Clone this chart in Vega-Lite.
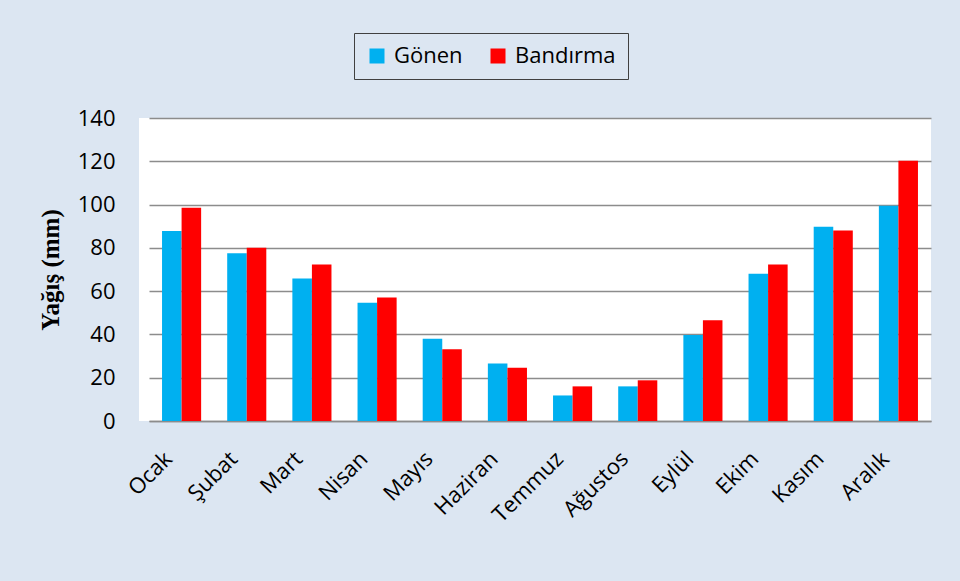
{
  "$schema": "https://vega.github.io/schema/vega-lite/v6.json",
  "autosize": {"type": "none"},
  "width": 792,
  "height": 303,
  "padding": {"left": 139, "top": 118, "right": 29, "bottom": 160},
  "background": "#DCE6F2",
  "config": {
    "view": {"fill": "white", "stroke": null},
    "font": "Open Sans"
  },
  "data": {
    "values": [
      {"ay": "Ocak", "istasyon": "Gönen", "yagis": 87.8},
      {"ay": "Ocak", "istasyon": "Bandırma", "yagis": 98.5},
      {"ay": "Şubat", "istasyon": "Gönen", "yagis": 77.5},
      {"ay": "Şubat", "istasyon": "Bandırma", "yagis": 80.0},
      {"ay": "Mart", "istasyon": "Gönen", "yagis": 65.8},
      {"ay": "Mart", "istasyon": "Bandırma", "yagis": 72.3},
      {"ay": "Nisan", "istasyon": "Gönen", "yagis": 54.6},
      {"ay": "Nisan", "istasyon": "Bandırma", "yagis": 57.1},
      {"ay": "Mayıs", "istasyon": "Gönen", "yagis": 38.0},
      {"ay": "Mayıs", "istasyon": "Bandırma", "yagis": 33.1},
      {"ay": "Haziran", "istasyon": "Gönen", "yagis": 26.6},
      {"ay": "Haziran", "istasyon": "Bandırma", "yagis": 24.6},
      {"ay": "Temmuz", "istasyon": "Gönen", "yagis": 11.8},
      {"ay": "Temmuz", "istasyon": "Bandırma", "yagis": 16.0},
      {"ay": "Ağustos", "istasyon": "Gönen", "yagis": 16.0},
      {"ay": "Ağustos", "istasyon": "Bandırma", "yagis": 18.8},
      {"ay": "Eylül", "istasyon": "Gönen", "yagis": 39.7},
      {"ay": "Eylül", "istasyon": "Bandırma", "yagis": 46.5},
      {"ay": "Ekim", "istasyon": "Gönen", "yagis": 68.0},
      {"ay": "Ekim", "istasyon": "Bandırma", "yagis": 72.3},
      {"ay": "Kasım", "istasyon": "Gönen", "yagis": 89.8},
      {"ay": "Kasım", "istasyon": "Bandırma", "yagis": 88.0},
      {"ay": "Aralık", "istasyon": "Gönen", "yagis": 99.5},
      {"ay": "Aralık", "istasyon": "Bandırma", "yagis": 120.3}
    ]
  },
  "mark": {"type": "bar"},
  "encoding": {
    "x": {
      "field": "ay",
      "type": "nominal",
      "sort": ["Ocak", "Şubat", "Mart", "Nisan", "Mayıs", "Haziran", "Temmuz", "Ağustos", "Eylül", "Ekim", "Kasım", "Aralık"],
      "scale": {"range": [10, 792], "paddingInner": 0.4, "paddingOuter": 0.2},
      "axis": {
        "title": null,
        "labelAngle": -45,
        "labelAlign": "right",
        "labelBaseline": "middle",
        "labelFontSize": 22,
        "labelColor": "black",
        "labelPadding": 34,
        "labelOffset": -13,
        "ticks": false,
        "domainColor": "#8c8c8c",
        "domainWidth": 1.5
      }
    },
    "xOffset": {
      "field": "istasyon",
      "type": "nominal",
      "sort": ["Gönen", "Bandırma"],
      "scale": {"paddingInner": 0, "paddingOuter": 0}
    },
    "y": {
      "field": "yagis",
      "type": "quantitative",
      "scale": {"domain": [0, 140]},
      "axis": {
        "title": "Yağış (mm)",
        "titleFont": "Liberation Serif",
        "titleFontSize": 25,
        "titleFontWeight": "bold",
        "titleColor": "black",
        "titlePadding": 14,
        "values": [0, 20, 40, 60, 80, 100, 120, 140],
        "labelFontSize": 22,
        "labelColor": "black",
        "labelPadding": 24,
        "ticks": false,
        "domain": false,
        "gridColor": "#8c8c8c",
        "gridWidth": 1.5
      }
    },
    "color": {
      "field": "istasyon",
      "type": "nominal",
      "sort": ["Gönen", "Bandırma"],
      "scale": {"domain": ["Gönen", "Bandırma"], "range": ["#00B0F0", "#FF0000"]},
      "legend": {
        "title": null,
        "orient": "none",
        "legendX": 215,
        "legendY": -85,
        "direction": "horizontal",
        "symbolType": "square",
        "symbolSize": 225,
        "symbolStrokeWidth": 0,
        "labelFontSize": 22,
        "labelOffset": 6,
        "labelColor": "black",
        "columnPadding": 24,
        "padding": 12,
        "strokeColor": "#404040",
        "fillColor": "#DCE6F2"
      }
    }
  }
}
